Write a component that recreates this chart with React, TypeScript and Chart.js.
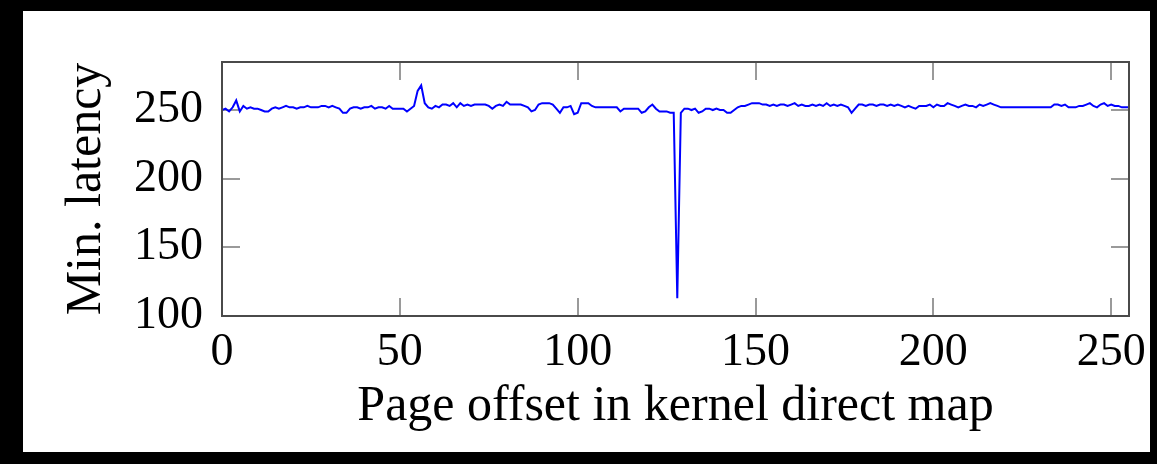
import React, { useEffect, useRef } from "react";
import { Chart, registerables } from "chart.js";

Chart.register(...registerables);

// Minimum access latency per page offset (0..255) in the kernel direct map
const latency: number[] = [
  250, 251, 249, 252, 257, 249, 253, 251, 252, 251, 251, 250, 249, 249, 251, 252,
  251, 252, 253, 252, 252, 251, 252, 252, 253, 252, 252, 252, 253, 253, 252, 253,
  252, 251, 248, 248, 251, 252, 252, 251, 252, 252, 253, 251, 252, 252, 251, 253,
  251, 251, 251, 251, 249, 251, 253, 264, 268, 255, 252, 251, 253, 252, 254, 254,
  253, 255, 252, 255, 253, 254, 253, 254, 254, 254, 254, 253, 251, 253, 254, 253,
  256, 254, 254, 254, 254, 253, 252, 249, 250, 254, 255, 255, 255, 254, 251, 248,
  252, 252, 253, 247, 248, 255, 255, 255, 253, 252, 252, 252, 252, 252, 252, 252,
  249, 251, 251, 251, 251, 251, 248, 249, 252, 254, 251, 249, 249, 249, 248, 248,
  113, 248, 251, 251, 250, 251, 248, 249, 251, 251, 250, 251, 250, 250, 248, 248,
  250, 252, 253, 253, 254, 255, 255, 255, 254, 254, 253, 254, 253, 254, 254, 253,
  254, 255, 253, 254, 253, 253, 254, 253, 254, 253, 255, 253, 254, 253, 254, 253,
  252, 248, 251, 254, 254, 253, 254, 254, 253, 254, 254, 253, 254, 253, 254, 253,
  252, 253, 252, 251, 253, 253, 253, 254, 252, 254, 253, 253, 255, 254, 253, 252,
  253, 254, 253, 253, 252, 254, 253, 254, 255, 254, 253, 252, 252, 252, 252, 252,
  252, 252, 252, 252, 252, 252, 252, 252, 252, 252, 254, 254, 253, 254, 252, 252,
  252, 253, 253, 254, 255, 253, 252, 254, 255, 253, 254, 253, 253, 252, 252, 252,
];

const xTicks: number[] = [0, 50, 100, 150, 200, 250];
const yTicks: number[] = [100, 150, 200, 250];
const xRange: number[] = [0, 255];
const yRange: number[] = [100, 285];
const xTitle = "Page offset in kernel direct map";
const yTitle = "Min. latency";

const SERIF = "'Liberation Serif', 'DejaVu Serif', serif";

// Closed axis box with short tick marks pointing into the plot on all four sides
const boxAxes = {
  id: "boxAxes",
  beforeDatasetsDraw(chart: any) {
    const { ctx, chartArea: a, scales } = chart;
    const len = 18;
    ctx.save();
    ctx.strokeStyle = "#9a9a9a";
    ctx.lineWidth = 2;
    ctx.beginPath();
    for (const v of xTicks) {
      const px = Math.round(scales.x.getPixelForValue(v));
      ctx.moveTo(px, a.bottom);
      ctx.lineTo(px, a.bottom - len);
      ctx.moveTo(px, a.top);
      ctx.lineTo(px, a.top + len);
    }
    for (const v of yTicks) {
      const py = Math.round(scales.y.getPixelForValue(v));
      ctx.moveTo(a.left, py);
      ctx.lineTo(a.left + len, py);
      ctx.moveTo(a.right, py);
      ctx.lineTo(a.right - len, py);
    }
    ctx.stroke();
    ctx.restore();
  },
  afterDatasetsDraw(chart: any) {
    const { ctx, chartArea: a } = chart;
    ctx.save();
    ctx.strokeStyle = "#4a4a4a";
    ctx.lineWidth = 2;
    ctx.strokeRect(a.left, a.top, a.right - a.left, a.bottom - a.top);
    ctx.restore();
  },
};

export default function App() {
  const canvasRef = useRef<HTMLCanvasElement | null>(null);

  useEffect(() => {
    document.body.style.margin = "0";
    document.body.style.background = "#000";
    const canvas = canvasRef.current;
    if (!canvas) return;

    const points = latency.map((y, i) => ({ x: i, y }));

    const chart = new Chart(canvas, {
      type: "line",
      data: {
        datasets: [
          {
            data: points,
            borderColor: "#0000ff",
            borderWidth: 2,
            pointRadius: 0,
            tension: 0,
            fill: false,
          },
        ],
      },
      options: {
        responsive: false,
        animation: false,
        events: [],
        layout: { padding: { top: 51, right: 21, left: 0, bottom: 0 } },
        plugins: {
          legend: { display: false },
          tooltip: { enabled: false },
        },
        scales: {
          x: {
            type: "linear",
            min: xRange[0],
            max: xRange[1],
            afterBuildTicks: (s: any) => {
              s.ticks = xTicks.map((v) => ({ value: v }));
            },
            afterFit: (s: any) => {
              s.height = 136;
              // tick labels may overhang the plot edges
              s.paddingLeft = 0;
              s.paddingRight = 0;
            },
            grid: { display: false, drawTicks: false },
            border: { display: false },
            ticks: {
              color: "#000",
              padding: 9,
              maxRotation: 0,
              autoSkip: false,
              font: { family: SERIF, size: 46, lineHeight: 1.2 },
            },
            title: {
              display: true,
              text: xTitle,
              color: "#000",
              font: { family: SERIF, size: 50, lineHeight: 1.2 },
              padding: { top: 0, bottom: 15 },
            },
          },
          y: {
            type: "linear",
            min: yRange[0],
            max: yRange[1],
            afterBuildTicks: (s: any) => {
              s.ticks = yTicks.map((v) => ({ value: v }));
            },
            afterFit: (s: any) => {
              s.width = 199;
              s.paddingTop = 0;
              s.paddingBottom = 0;
            },
            grid: { display: false, drawTicks: false },
            border: { display: false },
            ticks: {
              color: "#000",
              padding: 19,
              autoSkip: false,
              font: { family: SERIF, size: 46, lineHeight: 1.2 },
            },
            title: {
              display: true,
              text: yTitle,
              color: "#000",
              font: { family: SERIF, size: 50, lineHeight: 1.2 },
              padding: { top: 34, bottom: 0 },
            },
          },
        },
      },
      plugins: [boxAxes],
    } as any);

    return () => chart.destroy();
  }, []);

  return (
    <div
      style={{
        position: "absolute",
        left: 23,
        top: 11,
        width: 1127,
        height: 441,
        background: "#fff",
      }}
    >
      <canvas ref={canvasRef} width={1127} height={441} style={{ display: "block" }} />
    </div>
  );
}
